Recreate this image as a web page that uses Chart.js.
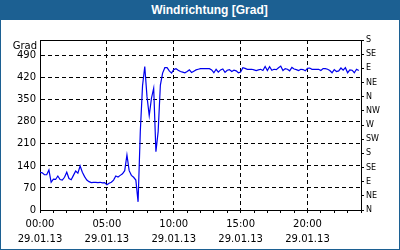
<!DOCTYPE html>
<html>
<head>
<meta charset="utf-8">
<script src="https://cdn.jsdelivr.net/npm/chart.js@4/dist/chart.umd.min.js"></script>
<style>
body { margin: 0; }
#box { width: 400px; height: 250px; box-sizing: border-box; border: 1px solid #1c6092; border-top: none; background: #fff; }
#head { height: 20px; margin: 0 -1px; background: #1c6092; color: #fff; font: bold 12px "Liberation Sans", Arial, sans-serif; line-height: 20px; text-align: center; padding-left: 19px; }
</style>
</head>
<body>
<div id="box">
  <div id="head">Windrichtung [Grad]</div>
  <canvas id="myChart" width="398" height="229"></canvas>
</div>
<script>
// Windrichtung 29.01.13, ein Wert alle 10 Minuten ab 00:00
const dateLabel = '29.01.13';
const unitLabel = 'Grad';
const stepMinutes = 10;
const direction = [
    120, 118, 112, 112, 127, 88, 98, 97, 108, 97,
    95, 104, 120, 100, 96, 110, 124, 117, 140, 120,
    106, 95, 90, 87, 88, 88, 87, 88, 86, 87,
    80, 85, 88, 95, 108, 105, 110, 115, 125, 175,
    125, 110, 104, 95, 26, 250, 395, 456, 360, 300,
    355, 387, 185, 249, 397, 435, 452, 452, 442, 435,
    446, 449, 444, 440, 438, 436, 440, 445, 437, 441,
    445, 447, 449, 449, 449, 449, 449, 445, 436, 447,
    438, 445, 448, 437, 444, 446, 440, 444, 442, 436,
    438, 452, 450, 447, 447, 447, 445, 443, 445, 447,
    443, 456, 443, 455, 444, 447, 446, 452, 457, 443,
    449, 447, 442, 453, 448, 446, 443, 447, 446, 442,
    450, 451, 447, 447, 447, 447, 443, 449, 449, 447,
    443, 436, 446, 440, 442, 451, 444, 452, 436, 445,
    444, 436, 447, 443
];
const compass = ['N', 'NE', 'E', 'SE', 'S', 'SW', 'W', 'NW', 'N', 'NE', 'E', 'SE', 'S'];

const points = direction.map((v, i) => ({ x: i * stepMinutes, y: v }));

function hhmm(min) {
    const h = Math.floor(min / 60), m = min % 60;
    return String(h).padStart(2, '0') + ':' + String(m).padStart(2, '0');
}

const frame = {
    id: 'frame',
    afterDraw(chart) {
        const { ctx, chartArea: a } = chart;
        ctx.save();
        ctx.strokeStyle = '#000';
        ctx.lineWidth = 1;
        ctx.beginPath();
        ctx.moveTo(a.left, Math.round(a.top) + 0.5);
        ctx.lineTo(a.right, Math.round(a.top) + 0.5);
        ctx.stroke();
        ctx.font = '10px "DejaVu Sans"';
        ctx.fillStyle = '#000';
        ctx.textAlign = 'right';
        ctx.textBaseline = 'middle';
        ctx.fillText(unitLabel, a.left - 3, a.top + 6);
        ctx.restore();
    }
};

Chart.defaults.font.family = '"DejaVu Sans", sans-serif';
Chart.defaults.font.size = 10;
Chart.defaults.color = '#000';

const ctx = document.getElementById('myChart').getContext('2d');
const myChart = new Chart(ctx, {
    type: 'line',
    data: {
        datasets: [{
            data: points,
            borderColor: '#0000ee',
            borderWidth: 1.2,
            pointRadius: 0,
            tension: 0,
            fill: false
        }]
    },
    plugins: [frame],
    options: {
        responsive: false,
        animation: false,
        layout: { padding: { top: 20, left: 0, right: 0, bottom: 0 } },
        plugins: { legend: { display: false }, tooltip: { enabled: false } },
        scales: {
            x: {
                type: 'linear',
                min: 0,
                max: 1440,
                afterFit: s => { s.height = 39; },
                border: { color: '#000', width: 1, dash: [4, 3] },
                grid: {
                    color: c => (c.tick && c.tick.value % 300 === 0 && c.tick.value > 0 && c.tick.value < 1440) ? '#000' : 'rgba(0,0,0,0)',
                    tickColor: '#000',
                    tickLength: 3,
                    lineWidth: 1
                },
                ticks: {
                    stepSize: 60,
                    autoSkip: false,
                    maxRotation: 0,
                    padding: 4,
                    font: { size: 10, lineHeight: 1.5 },
                    callback: v => (v % 300 === 0 && v < 1440) ? [hhmm(v), dateLabel] : ''
                }
            },
            y: {
                position: 'left',
                min: 0,
                max: 540,
                afterFit: s => { s.width = 39; },
                border: { color: '#000', width: 1, dash: [4, 3] },
                grid: {
                    color: c => (c.tick && c.tick.value > 0) ? '#000' : 'rgba(0,0,0,0)',
                    drawTicks: false,
                    lineWidth: 1
                },
                ticks: {
                    stepSize: 70,
                    includeBounds: false,
                    padding: 4,
                    font: { size: 10 }
                }
            },
            y2: {
                position: 'right',
                min: 0,
                max: 540,
                afterFit: s => { s.width = 38; },
                border: { color: '#000', width: 1 },
                grid: {
                    drawOnChartArea: false,
                    tickColor: '#000',
                    tickLength: 3
                },
                ticks: {
                    stepSize: 45,
                    padding: 2,
                    font: { size: 8 },
                    callback: v => compass[Math.round(v / 45)]
                }
            }
        }
    }
});
</script>
</body>
</html>
